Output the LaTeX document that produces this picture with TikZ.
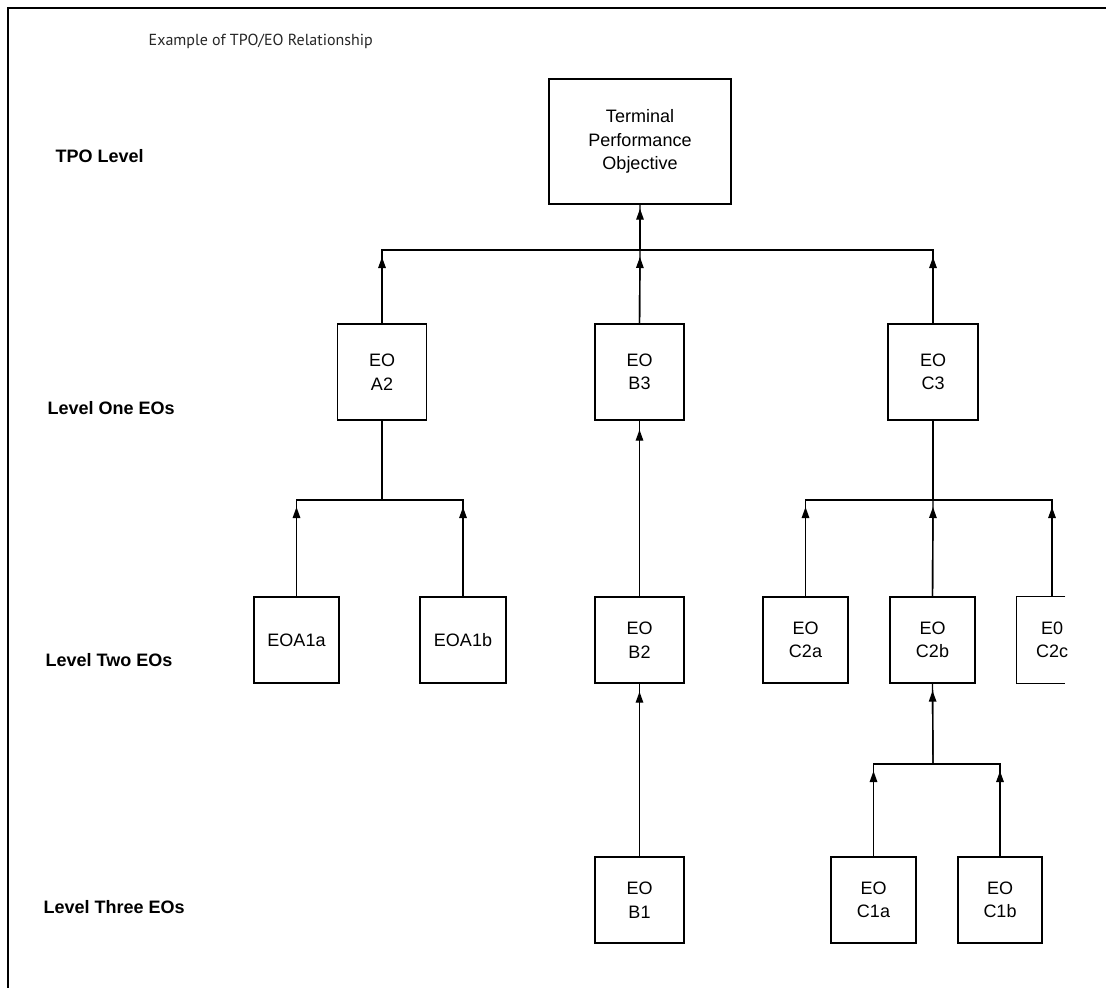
\documentclass[tikz,border=0pt]{standalone}
\usepackage{fontspec}
\usetikzlibrary{arrows.meta}
\newfontfamily\boxfont{Liberation Sans}
\newfontfamily\headfont{PT Sans}
\begin{document}
\begin{tikzpicture}[x=1pt, y=-1pt,
  line width=1.4pt,
  box/.style={draw, line width=1.4pt, inner sep=0pt, align=center,
    font=\boxfont\fontsize{18}{23.5}\selectfont,
    minimum width=86pt, minimum height=86pt},
  onebox/.style={box, minimum width=89pt, minimum height=96pt},
  levellabel/.style={anchor=base west, inner sep=0pt,
    font=\boxfont\bfseries\fontsize{18}{21}\selectfont},
  feed/.style={-{Triangle[length=11pt,width=7.5pt]}, shorten >=7pt},
]
\useasboundingbox (0,0) rectangle (1106,988);

% page frame
\draw[line width=1.6pt] (8,988) -- (8,8) -- (1106,8);

% title and level labels
\node[anchor=base west, inner sep=0pt, text=black!85,
  font=\headfont\fontsize{16}{19}\selectfont] (title) at (148,45)
  {Example of TPO/EO Relationship};
\node[levellabel] (lvTPO) at (55,162) {TPO Level};
\node[levellabel] (lvOne) at (47,414) {Level One EOs};
\node[levellabel] (lvTwo) at (45,666) {Level Two EOs};
\node[levellabel] (lvThree) at (43,913) {Level Three EOs};

% terminal objective
\node[box, minimum width=182pt, minimum height=125pt] (TPO) at (640,141.5)
  {Terminal\\Performance\\Objective};

% level one
\node[onebox] (A2) at (382,372) {EO\\A2};
\node[onebox] (B3) at (639.5,372) {EO\\B3};
\node[onebox, minimum width=90pt] (C3) at (933,372) {EO\\C3};

% level two
\node[box, minimum width=85pt] (A1a) at (296.5,640) {EOA1a};
\node[box] (A1b) at (463,640) {EOA1b};
\node[box, minimum width=89pt] (B2) at (639.5,640) {EO\\B2};
\node[box, minimum width=85pt] (C2a) at (805.5,640) {EO\\C2a};
\node[box, minimum width=85pt] (C2b) at (932.5,640) {EO\\C2b};
\node[box, draw=none, minimum width=70pt] (C2c) at (1052,640) {E0\\C2c};
\draw ([xshift=49pt]C2c.north west) -- (C2c.north west)
  -- (C2c.south west) -- ([xshift=49pt]C2c.south west);

% level three
\node[box, minimum width=89pt] (B1) at (639.5,900) {EO\\B1};
\node[box, minimum width=85pt] (C1a) at (873.5,900) {EO\\C1a};
\node[box, minimum width=84pt] (C1b) at (1000,900) {EO\\C1b};

% junctions
\coordinate (jTop) at (640,250);
\coordinate (jA) at (382,500);
\coordinate (jC) at (933,500);
\coordinate (jC1) at (933,764);

% level one into the terminal objective
\draw (A2.north) -- (A2.north |- jTop) -- (C3.north |- jTop) -- (C3.north);
\draw (B3.north) -- (jTop) -- (TPO.south);
\draw[feed] (A2.north) -- (A2.north |- jTop);
\draw[feed] (B3.north) -- (jTop);
\draw[feed] (C3.north) -- (C3.north |- jTop);
\draw[feed, shorten >=4pt] (jTop) -- (TPO.south);

% level two into A2
\draw (A2.south) -- (jA);
\draw (A1a.north) -- (A1a.north |- jA) -- (A1b.north |- jA) -- (A1b.north);
\draw[feed] (A1a.north) -- (A1a.north |- jA);
\draw[feed] (A1b.north) -- (A1b.north |- jA);

% B chain
\draw (B2.north) -- (B3.south);
\draw[feed, shorten >=9pt] (B2.north) -- (B3.south);
\draw (B1.north) -- (B2.south);
\draw[feed, shorten >=8pt] (B1.north) -- (B2.south);

% level two into C3
\draw (C3.south) -- (jC);
\draw (C2a.north) -- (C2a.north |- jC) -- (C2c.north |- jC) -- (C2c.north);
\draw (C2b.north) -- (jC);
\draw[feed] (C2a.north) -- (C2a.north |- jC);
\draw[feed] (C2b.north) -- (jC);
\draw[feed] (C2c.north) -- (C2c.north |- jC);

% level three into C2b
\draw (jC1) -- (C2b.south);
\draw[feed] (jC1) -- (C2b.south);
\draw (C1a.north) -- (C1a.north |- jC1) -- (C1b.north |- jC1) -- (C1b.north);
\draw[feed] (C1a.north) -- (C1a.north |- jC1);
\draw[feed] (C1b.north) -- (C1b.north |- jC1);
\end{tikzpicture}
\end{document}
